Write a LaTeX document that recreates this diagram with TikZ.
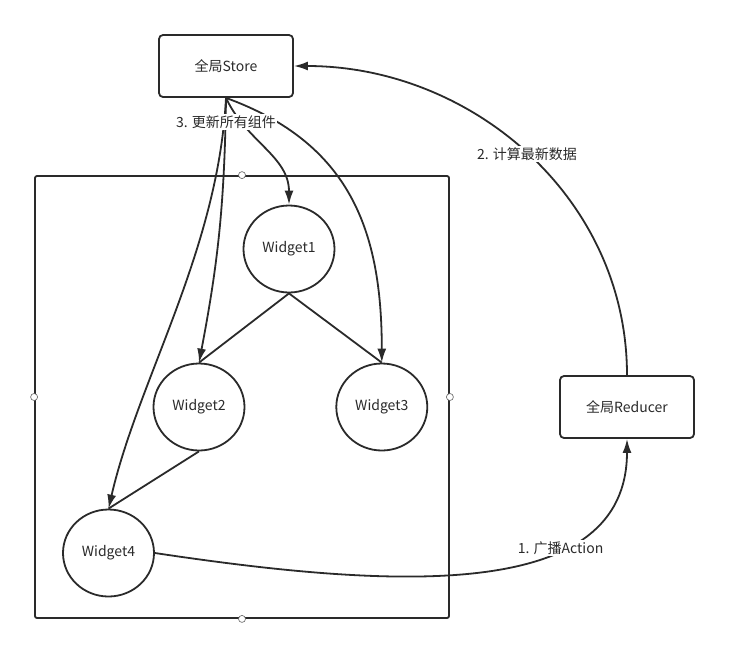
\documentclass[tikz,border=0pt]{standalone}
\usepackage{fontspec}
\setmainfont{Noto Sans CJK SC}
\usepackage{xcolor}
\usetikzlibrary{arrows.meta,positioning,shapes.geometric}
\definecolor{ink}{HTML}{2A2A2A}

\begin{document}
\begin{tikzpicture}[x=1pt,y=1pt,
  color=ink,line width=1.8pt,font=\fontsize{14}{16}\selectfont,
  box/.style={draw,rounded corners=4pt,minimum width=134pt,minimum height=62pt},
  wid/.style={draw,ellipse,minimum width=91pt,minimum height=87pt,inner sep=0pt},
  lbl/.style={fill=white,inner sep=1.5pt},
  knob/.style={circle,draw=ink!75,line width=0.6pt,fill=white,minimum size=7pt,inner sep=0pt},
  arr/.style={-{Latex[length=14pt,width=9pt]}}]
\useasboundingbox (0,0) rectangle (733,-646);
\node[box] (store) at (226,-66) {全局Store};
\node[box] (reducer) at (627,-407) {全局Reducer};
\node[draw,rounded corners=2pt,minimum width=414pt,minimum height=442pt] (frame) at (242,-397) {};
\node[wid] (w1) at (289,-249) {Widget1};
\node[wid] (w2) at (199,-407) {Widget2};
\node[wid,right=90pt of w2] (w3) {Widget3};
\node[wid] (w4) at (108.5,-553) {Widget4};
\draw (w1.south) -- (w2.north);
\draw (w1.south) -- (w3.north);
\draw (w2.south) -- (w4.north);
\draw[arr] (store.south) to[out=-65,in=90] (w1.north);
\draw[arr] (store.south) to[bend left=5] (w2.north);
\draw[arr] (store.south) to[out=-20,in=90,looseness=1.1] (w3.north);
\draw[arr] (store.south) .. controls +(-8,-153) and +(30,130) .. (w4.north);
\node[lbl] (update) at (226,-122) {3. 更新所有组件};
\draw[arr] (reducer.north) to[out=90,in=0] node[lbl,pos=.5]{2. 计算最新数据} (store.east);
\draw[arr] (w4.east) .. controls +(246,-37) and +(0,-162) .. node[lbl,pos=.67]{1. 广播Action} (reducer.south);
\foreach \side in {north,south,east,west}
  \node[knob] (knob-\side) at (frame.\side) {};
\end{tikzpicture}
\end{document}
